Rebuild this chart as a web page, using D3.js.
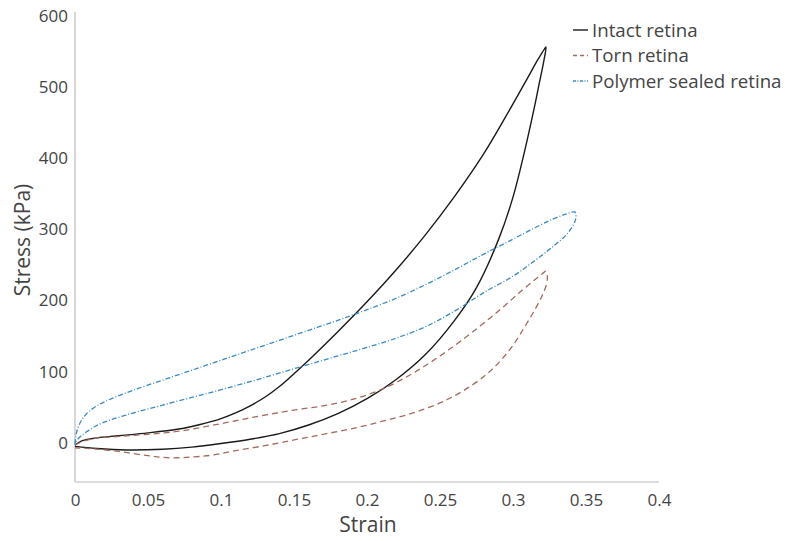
<!DOCTYPE html>
<html>
<head>
<meta charset="utf-8">
<script src="https://cdn.jsdelivr.net/npm/d3@7"></script>
<style>
  body { margin: 0; background: white; }
  text { font-family: "Open Sans", "Noto Sans", sans-serif; fill: #444; }
</style>
</head>
<body>
<div id="chart"></div>
<script>
// Width and height
const width = 785,
    height = 541;

// Intact retina (strain, kPa): loading branch, then unloading branch
const intactStrain = [0, 0.005, 0.015, 0.03, 0.05, 0.07, 0.08, 0.09, 0.1, 0.11, 0.12, 0.13, 0.14, 0.16, 0.18, 0.2, 0.22, 0.24, 0.26, 0.28, 0.295, 0.308, 0.317, 0.3215, 0.3226,
    0.321, 0.318, 0.314, 0.308, 0.3, 0.29, 0.275, 0.26, 0.24, 0.22, 0.2, 0.18, 0.16, 0.14, 0.12, 0.1, 0.08, 0.06, 0.035, 0.015, 0];
const intactStress = [-3, 3, 7, 10, 14, 19, 23, 28, 34, 42, 52, 64, 79, 116, 156, 198, 243, 292, 346, 406, 458, 505, 538, 553, 556,
    535, 505, 465, 410, 345, 285, 218, 172, 124, 89, 62, 41, 25, 13, 5, -1, -6, -9, -10, -8, -5];

// Torn retina
const tornStrain = [0, 0.01, 0.03, 0.05, 0.07, 0.09, 0.11, 0.13, 0.15, 0.17, 0.19, 0.21, 0.23, 0.25, 0.27, 0.29, 0.305, 0.315, 0.3205, 0.3225,
    0.3235, 0.323, 0.32, 0.315, 0.308, 0.3, 0.29, 0.28, 0.265, 0.25, 0.23, 0.21, 0.19, 0.17, 0.15, 0.13, 0.11, 0.095, 0.08, 0.065, 0.05, 0.03, 0.01, 0];
const tornStress = [-3, 5, 9, 12, 16, 23, 31, 39, 46, 52, 61, 75, 96, 122, 152, 185, 212, 229, 238, 241,
    234, 223, 207, 187, 163, 137, 112, 93, 72, 56, 41, 30, 20, 12, 4, -4, -11, -17, -20, -21, -18, -12, -8, -7];

// Polymer sealed retina
const polymerStrain = [0, 0.0005, 0.0015, 0.004, 0.008, 0.015, 0.025, 0.04, 0.06, 0.08, 0.1, 0.12, 0.14, 0.16, 0.18, 0.2, 0.22, 0.24, 0.26, 0.28, 0.3, 0.315, 0.327, 0.336, 0.3425,
    0.343, 0.341, 0.336, 0.327, 0.315, 0.3, 0.28, 0.26, 0.24, 0.22, 0.2, 0.18, 0.15, 0.12, 0.09, 0.06, 0.035, 0.02, 0.012, 0.005, 0.001, 0];
const polymerStress = [-2, 8, 18, 30, 41, 52, 62, 74, 88, 102, 116, 130, 144, 158, 172, 187, 203, 222, 243, 265, 286, 302, 314, 321, 324,
    315, 305, 291, 275, 256, 234, 211, 185, 163, 147, 134, 122, 104, 86, 69, 53, 39, 29, 21, 11, 3, -3];

const seriesNames = ["Intact retina", "Torn retina", "Polymer sealed retina"];
const seriesColors = ["#1a1a1a", "#a56a5e", "#3a8bc4"];
const seriesDash = [null, "6,4", "5,2,1,2"];

const xTicks = [0, 0.05, 0.1, 0.15, 0.2, 0.25, 0.3, 0.35, 0.4];
const yTicks = [0, 100, 200, 300, 400, 500, 600];

let svg = d3.select("#chart")
    .append("svg")
    .attr("width", width)
    .attr("height", height);

let x = d3.scaleLinear()
    .domain([0, 0.4])
    .range([75, 659]);

let y = d3.scaleLinear()
    .domain([-55, 605])
    .range([482, 12]);

// axis lines
svg.append("line")
    .attr("x1", x(0)).attr("x2", x(0))
    .attr("y1", y(605)).attr("y2", y(-55))
    .attr("stroke", "#bdbdbd").attr("stroke-width", 1.2);
svg.append("line")
    .attr("x1", x(0)).attr("x2", x(0.4))
    .attr("y1", y(-55)).attr("y2", y(-55))
    .attr("stroke", "#bdbdbd").attr("stroke-width", 1.2);

let xAxis = svg.append("g")
    .attr("transform", `translate(0, ${y(-55)})`)
    .call(d3.axisBottom(x).tickValues(xTicks).tickSize(0).tickPadding(12).tickFormat(d3.format("")));
let yAxis = svg.append("g")
    .attr("transform", `translate(${x(0)}, 0)`)
    .call(d3.axisLeft(y).tickValues(yTicks).tickSize(0).tickPadding(7).tickFormat(d3.format("")));
[xAxis, yAxis].forEach(a => {
    a.select(".domain").remove();
    a.selectAll("text")
        .style("font-family", "'Open Sans', sans-serif")
        .style("font-size", "17px")
        .attr("fill", "#444");
});

// axis titles
svg.append("text")
    .attr("x", 368).attr("y", 532)
    .attr("text-anchor", "middle")
    .style("font-size", "21px")
    .text("Strain");
svg.append("text")
    .attr("transform", "translate(30, 240) rotate(-90)")
    .attr("text-anchor", "middle")
    .style("font-size", "21px")
    .text("Stress (kPa)");

let series = [
    d3.zip(intactStrain, intactStress),
    d3.zip(tornStrain, tornStress),
    d3.zip(polymerStrain, polymerStress)
];

let line = d3.line()
    .x(d => x(d[0]))
    .y(d => y(d[1]))
    .curve(d3.curveCatmullRom.alpha(0.5));

svg.append("g")
    .selectAll("path")
    .data(series)
    .join("path")
        .attr("d", d => line(d))
        .attr("fill", "none")
        .attr("stroke", (d, i) => seriesColors[i])
        .attr("stroke-width", (d, i) => i == 0 ? 1.4 : 1.3)
        .attr("stroke-dasharray", (d, i) => seriesDash[i]);

// legend
let legend = svg.append("g")
    .selectAll("g")
    .data(seriesNames)
    .join("g")
        .attr("transform", (d, i) => `translate(573, ${30 + i * 25.5})`);
legend.append("line")
    .attr("x1", 0).attr("x2", 15)
    .attr("stroke", (d, i) => seriesColors[i])
    .attr("stroke-width", 1.4)
    .attr("stroke-dasharray", (d, i) => i == 0 ? null : (i == 1 ? "4,3" : "3,1.5,1,1.5"));
legend.append("text")
    .attr("x", 19)
    .attr("dy", "0.35em")
    .style("font-size", "18.7px")
    .text(d => d);
</script>
</body>
</html>
